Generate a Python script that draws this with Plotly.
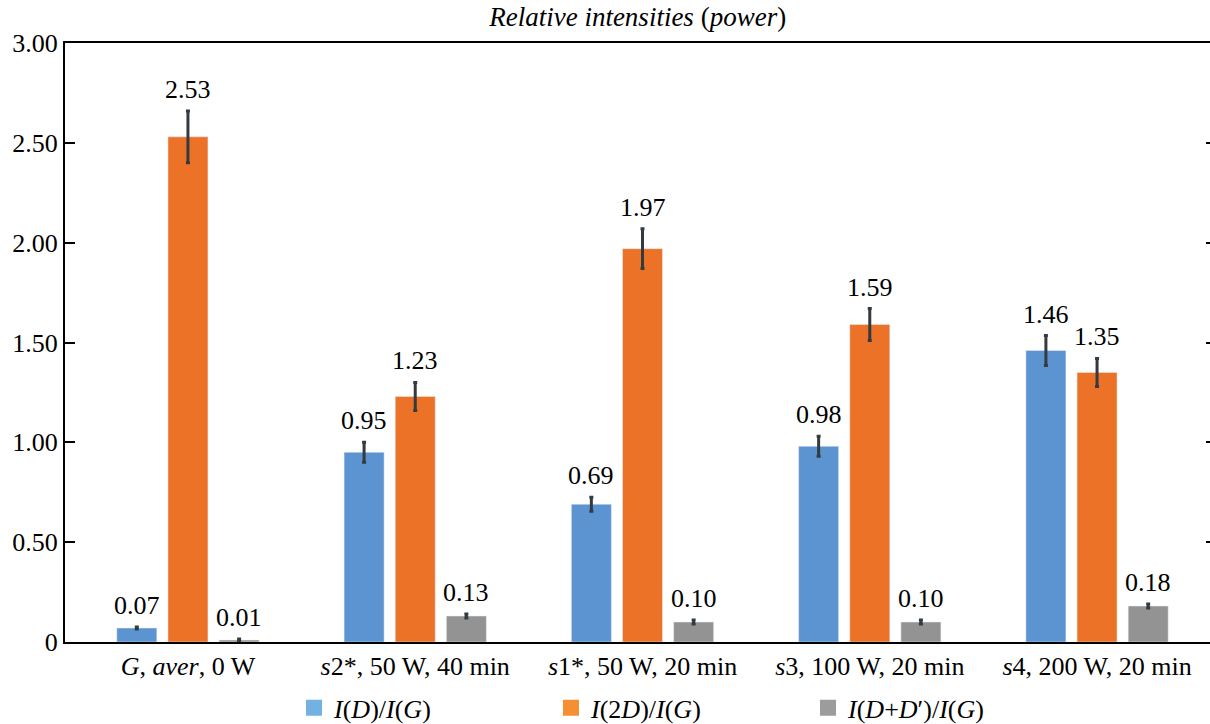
import plotly.graph_objects as go

categories = ["<i>G</i>, <i>aver</i>, 0 W", "<i>s</i>2*, 50 W, 40 min", "<i>s</i>1*, 50 W, 20 min",
              "<i>s</i>3, 100 W, 20 min", "<i>s</i>4, 200 W, 20 min"]
series_names = ["<i>I</i>(<i>D</i>)/<i>I</i>(<i>G</i>)",
                "<i>I</i>(2<i>D</i>)/<i>I</i>(<i>G</i>)",
                "<i>I</i>(<i>D</i>+<i>D</i>′)/<i>I</i>(<i>G</i>)"]
d_g = [0.07, 0.95, 0.69, 0.98, 1.46]
d2_g = [2.53, 1.23, 1.97, 1.59, 1.35]
ddp_g = [0.01, 0.13, 0.10, 0.10, 0.18]
d_g_err = [0.005, 0.05, 0.035, 0.05, 0.075]
d2_g_err = [0.13, 0.07, 0.10, 0.08, 0.07]
ddp_g_err = [0.005, 0.01, 0.01, 0.01, 0.01]
ytick_vals = [0, 0.5, 1.0, 1.5, 2.0, 2.5, 3.0]
ytick_text = ["0", "0.50", "1.00", "1.50", "2.00", "2.50", "3.00"]

bar_colors = ["#5B94D0", "#EC7228", "#939393"]
legend_colors = ["#72B2E2", "#F58F33", "#9C9C9C"]

FONT = "Times New Roman"
FS = 26
BARGAP = 0.325
slot = (1 - BARGAP) / 3

x = list(range(len(categories)))
values = [d_g, d2_g, ddp_g]
errs = [d_g_err, d2_g_err, ddp_g_err]

fig = go.Figure()
for k in range(3):
    fig.add_trace(go.Bar(
        x=x, y=values[k], name=series_names[k], marker_color=bar_colors[k],
        showlegend=False, hoverinfo="skip",
        error_y=dict(type="data", array=errs[k], color="#333A40", thickness=3, width=2),
    ))
for k in range(3):
    fig.add_trace(go.Scatter(x=[None], y=[None], name=series_names[k], mode="markers",
                             marker=dict(symbol="square", size=16, color=legend_colors[k]),
                             showlegend=True))
fig.add_trace(go.Scatter(x=[None], y=[None], yaxis="y2", showlegend=False))

# value labels, placed just above the error bars
annotations = []
for k in range(3):
    for i in x:
        annotations.append(dict(
            x=i + (k - 1) * slot, y=values[k][i] + errs[k][i], xref="x", yref="y",
            text=f"{values[k][i]:.2f}", showarrow=False, yanchor="bottom", yshift=5,
            font=dict(family=FONT, size=FS, color="black")))

fig.update_layout(
    width=1210, height=724,
    margin=dict(l=65, r=0, t=43, b=82, autoexpand=False),
    paper_bgcolor="white", plot_bgcolor="white",
    barmode="group", bargap=BARGAP, bargroupgap=0.218,
    font=dict(family=FONT, size=FS, color="black"),
    title=dict(text="<i>Relative intensities</i> (<i>power</i>)", x=0.527, xanchor="center",
               y=0.977, yanchor="middle", font=dict(family=FONT, size=27, color="black")),
    xaxis=dict(range=[-0.541, 4.497], tickvals=x, ticktext=categories, showline=True,
               linecolor="black", linewidth=2, mirror=True, ticks="", showgrid=False,
               zeroline=False, automargin=False, tickfont=dict(family=FONT, size=FS)),
    yaxis=dict(range=[0, 3.0], tickvals=ytick_vals, ticktext=ytick_text, showline=True,
               linecolor="black", linewidth=2, ticks="inside", ticklen=10, tickwidth=2,
               tickcolor="black", showgrid=False, zeroline=False, automargin=False,
               tickfont=dict(family=FONT, size=FS)),
    yaxis2=dict(range=[0, 3.0], overlaying="y", side="right", tickvals=ytick_vals,
                showticklabels=False, ticks="inside", ticklen=4, tickwidth=2,
                tickcolor="black", showline=False, showgrid=False, zeroline=False,
                automargin=False),
    legend=dict(orientation="h", x=0.2, xanchor="left", y=-0.11, yanchor="middle",
                entrywidth=212, entrywidthmode="pixels", itemwidth=30,
                font=dict(family=FONT, size=FS)),
    annotations=annotations,
)

post = "document.body.style.margin='0';document.body.style.overflow='hidden';"
fig.write_html("out.html", config={"displayModeBar": False}, post_script=post)
